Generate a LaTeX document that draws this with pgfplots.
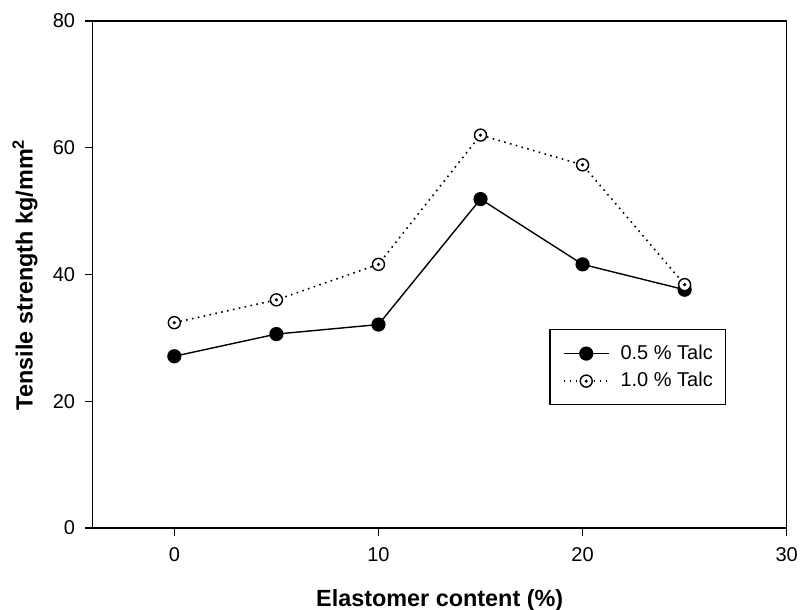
\documentclass[border=0pt]{standalone}
\usepackage{fontspec}
\setmainfont{Liberation Sans}
\usepackage{pgfplots}
\usepackage{pgfplotstable}
\pgfplotsset{compat=1.18}
\pgfdeclareplotmark{odot}{%
  \pgfpathcircle{\pgfpointorigin}{\pgfplotmarksize}%
  \pgfsetfillcolor{white}%
  \pgfusepathqfillstroke
  \pgfpathcircle{\pgfpointorigin}{0.3\pgfplotmarksize}%
  \pgfsetfillcolor{black}%
  \pgfusepathqfill
}
\pgfplotstableread{
x y
0 27.1
5 30.6
10 32.1
15 51.9
20 41.6
25 37.6
}\talchalf
\pgfplotstableread{
x y
0 32.4
5 36.0
10 41.6
15 62.0
20 57.3
25 38.4
}\talcone
\begin{document}
\begin{tikzpicture}
\begin{axis}[
  scale only axis,
  width=347pt, height=253.5pt,
  xmin=-4, xmax=30, ymin=0, ymax=80,
  xtick={0,10,20,30}, ytick={0,20,40,60,80},
  tick align=outside, xtick pos=bottom, ytick pos=left,
  major tick length=3.8pt,
  axis line style={line width=0.6pt},
  every tick/.style={line width=0.6pt, black},
  tick label style={font=\fontsize{10}{11}\selectfont},
  /pgf/number format/assume math mode=true,
  xticklabel style={yshift=-2.5pt},
  yticklabel style={xshift=-1.5pt},
  xlabel={\textbf{Elastomer content (\%)}},
  ylabel={\textbf{Tensile strength kg/mm\textsuperscript{2}}},
  label style={font=\fontsize{11.7}{13}\selectfont},
  xlabel style={at={(axis description cs:0.5,0)}, anchor=base, yshift=-39.5pt},
  ylabel style={at={(axis description cs:0,0.5)}, anchor=base, yshift=30pt},
  legend style={at={(rel axis cs:0.658,0.392)}, anchor=north west,
    font=\fontsize{10}{12}\selectfont, draw=black, line width=0.6pt,
    inner xsep=6.5pt, inner ysep=7.5pt, row sep=5pt,
    nodes={inner sep=0pt}},
  legend cell align=left,
  legend image code/.code={%
    \draw[mark repeat=2,mark phase=2] plot coordinates {(0pt,0pt) (11.25pt,0pt) (22.5pt,0pt)};
    \path (28pt,0pt);},
]
\addplot[black, line width=0.7pt, mark=*, mark size=3.2pt, mark options={solid, fill=black}]
  table[x=x,y=y] {\talchalf};
\addlegendentry{0.5 \% Talc}
\addplot[black, line width=0.8pt, dash pattern=on 0.8pt off 2.2pt, mark=odot, mark size=3pt, mark options={solid, line width=0.7pt}]
  table[x=x,y=y] {\talcone};
\addlegendentry{1.0 \% Talc}
\end{axis}
\pgfresetboundingbox
\path (-46.35pt,-41pt) rectangle (353.65pt,264pt);
\end{tikzpicture}
\end{document}
